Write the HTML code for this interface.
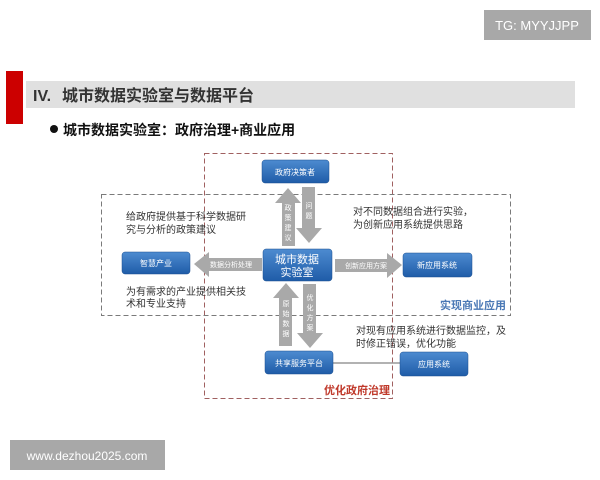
<!DOCTYPE html>
<html><head><meta charset="utf-8"><style>
html,body{margin:0;padding:0;background:#fff;width:600px;height:480px;overflow:hidden}
svg{display:block}
text{font-family:"Liberation Sans","Noto Sans CJK SC",sans-serif}
</style></head><body>
<svg width="600" height="480" viewBox="0 0 600 480" xmlns="http://www.w3.org/2000/svg">
<defs>
<linearGradient id="bl" x1="0" y1="0" x2="0" y2="1"><stop offset="0" stop-color="#4d8bd0"/><stop offset="1" stop-color="#1f5ca8"/></linearGradient>
</defs>
<rect x="484" y="10" width="107" height="30" fill="#a8a8a8"/>
<text x="537" y="30" font-size="13" fill="#fff" text-anchor="middle">TG: MYYJJPP</text>
<rect x="26" y="81" width="549" height="27" fill="#e0e0e0"/>
<rect x="6" y="71" width="17" height="53" fill="#cc0000"/>
<text x="33" y="101" font-size="16" font-weight="bold" fill="#333">IV.</text>
<text x="62" y="101" font-size="16" font-weight="bold" fill="#333">城市数据实验室与数据平台</text>
<circle cx="54" cy="129" r="4" fill="#111"/>
<text x="63" y="135" font-size="14" font-weight="bold" fill="#111">城市数据实验室：政府治理+商业应用</text>
<!-- dashed boxes -->
<rect x="204.5" y="153.5" width="188" height="245" fill="none" stroke="#a06060" stroke-dasharray="5,3"/>
<rect x="101.5" y="194.5" width="409" height="121" fill="none" stroke="#7a7a7a" stroke-dasharray="5,3"/>
<!-- arrows -->
<g fill="#a9a9a9">
<polygon points="288,188 275,203 282,203 282,246 295,246 295,203 301,203"/>
<polygon points="309,243 296,228 302,228 302,187 315,187 315,228 322,228"/>
<polygon points="194,264 209,252 209,258 262,258 262,271 209,271 209,277"/>
<polygon points="402,265 387,253 387,259 335,259 335,272 387,272 387,278"/>
<polygon points="286,283 273,298 279,298 279,346 292,346 292,298 299,298"/>
<polygon points="310,348 297,333 303,333 303,284 316,284 316,333 323,333"/>
</g>
<line x1="333" y1="363" x2="400" y2="363" stroke="#999" stroke-width="1.5"/>
<g fill="#fff" font-size="7" text-anchor="middle">
<text x="288" y="210">政</text><text x="288" y="220">策</text><text x="288" y="230">建</text><text x="288" y="240">议</text>
<text x="309" y="208">问</text><text x="309" y="218">题</text>
<text x="231" y="267">数据分析处理</text>
<text x="366" y="268">创新应用方案</text>
<text x="286" y="306">原</text><text x="286" y="316">始</text><text x="286" y="326">数</text><text x="286" y="336">据</text>
<text x="310" y="300">优</text><text x="310" y="310">化</text><text x="310" y="320">方</text><text x="310" y="330">案</text>
</g>
<!-- nodes -->
<g stroke="#1b4f8f" stroke-width="0.5">
<rect x="262" y="160" width="67" height="23" rx="3" fill="url(#bl)"/>
<rect x="263" y="249" width="69" height="32" rx="3" fill="url(#bl)"/>
<rect x="122" y="252" width="68" height="22" rx="3" fill="url(#bl)"/>
<rect x="403" y="253" width="69" height="24" rx="3" fill="url(#bl)"/>
<rect x="265" y="351" width="68" height="23" rx="3" fill="url(#bl)"/>
<rect x="400" y="352" width="68" height="24" rx="3" fill="url(#bl)"/>
</g>
<g fill="#fff" font-size="8" text-anchor="middle">
<text x="295" y="175">政府决策者</text>
<text x="156" y="266">智慧产业</text>
<text x="437" y="268">新应用系统</text>
<text x="299" y="366">共享服务平台</text>
<text x="434" y="367">应用系统</text>
<text x="297" y="263" font-size="11">城市数据</text>
<text x="297" y="276" font-size="11">实验室</text>
</g>
<g fill="#333" font-size="10">
<text x="126" y="220">给政府提供基于科学数据研</text>
<text x="126" y="233">究与分析的政策建议</text>
<text x="126" y="295">为有需求的产业提供相关技</text>
<text x="126" y="307">术和专业支持</text>
<text x="353" y="215">对不同数据组合进行实验，</text>
<text x="353" y="228">为创新应用系统提供思路</text>
<text x="356" y="334">对现有应用系统进行数据监控，及</text>
<text x="356" y="347">时修正错误，优化功能</text>
</g>
<text x="506" y="309" font-size="11" font-weight="bold" fill="#4a78b5" text-anchor="end">实现商业应用</text>
<text x="390" y="394" font-size="11" font-weight="bold" fill="#c0392b" text-anchor="end">优化政府治理</text>
<rect x="10" y="440" width="155" height="30" fill="#a8a8a8"/>
<text x="87" y="460" font-size="12" fill="#fff" text-anchor="middle">www.dezhou2025.com</text>
</svg>
</body></html>
